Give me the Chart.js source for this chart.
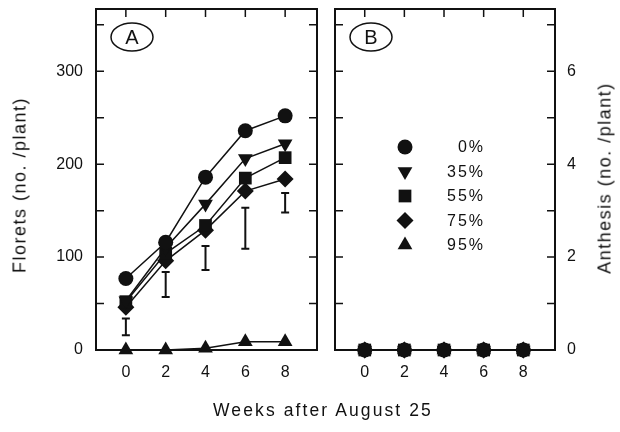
<!DOCTYPE html>
<html>
<head>
<meta charset="utf-8">
<script src="https://cdn.jsdelivr.net/npm/chart.js@4.4.1/dist/chart.umd.min.js"></script>
<style>
  body { margin: 0; background: #fff; }
  #wrap { position: relative; width: 620px; height: 432px; overflow: hidden; font-family: "Liberation Sans", Arial, sans-serif; color: #111; }
  canvas { position: absolute; top: 0; }
  #xtitle { position: absolute; left: 0; width: 646px; top: 400px; text-align: center; font-size: 17.5px; letter-spacing: 2.1px; }
  .ytitle { position: absolute; transform: translate(-50%, -50%) rotate(-90deg); white-space: nowrap; font-size: 18px; letter-spacing: 1.5px; }
</style>
</head>
<body>
<div id="wrap">
  <canvas id="panelA" width="326" height="432" style="left:0"></canvas>
  <canvas id="panelB" width="294" height="432" style="left:326px"></canvas>
  <div id="xtitle">Weeks after August 25</div>
  <div class="ytitle" style="left:20px; top:185px">Florets (no. /plant)</div>
  <div class="ytitle" style="left:605px; top:178px">Anthesis (no. /plant)</div>
</div>
<script>
// weeks after August 25
const weeks = [0, 2, 4, 6, 8];
const shadeNames = ['0%', '35%', '55%', '75%', '95%'];

// florets per plant, panel A
const florets0 = [77, 116, 186, 236, 252];
const florets35 = [53, 110, 157, 206, 222];
const florets55 = [52, 104, 134, 185, 207];
const florets75 = [46, 96, 129, 171, 184];
const florets95 = [0, 0, 2, 9, 9];

// LSD bars drawn under the curves
const barLow = [16, 57, 86, 109, 148];
const barHigh = [34, 84, 112, 153, 169];

// anthesis per plant, panel B (none for any shade level)
const anthesis0 = [0, 0, 0, 0, 0];
const anthesis35 = [0, 0, 0, 0, 0];
const anthesis55 = [0, 0, 0, 0, 0];
const anthesis75 = [0, 0, 0, 0, 0];
const anthesis95 = [0, 0, 0, 0, 0];

const weekTicks = [0, 2, 4, 6, 8];
const floretTicks = [0, 50, 100, 150, 200, 250, 300, 350];
const floretLabels = [0, 100, 200, 300];
const anthesisTicks = [0, 1, 2, 3, 4, 5, 6, 7];
const anthesisLabels = [0, 2, 4, 6];

const ink = '#111';
const fontFam = '"Liberation Sans", Arial, sans-serif';

// marker look for each shade level
const markers = [
  { pointStyle: 'circle', radius: 7.5, rotation: 0 },
  { pointStyle: 'triangle', radius: 8.5, rotation: 180 },
  { pointStyle: 'rect', radius: 9, rotation: 0 },
  { pointStyle: 'rectRot', radius: 8.5, rotation: 0 },
  { pointStyle: 'triangle', radius: 8.5, rotation: 0 }
];

function makeSets(seriesList) {
  return seriesList.map((vals, i) => ({
    label: shadeNames[i],
    data: weeks.map((w, j) => ({ x: w, y: vals[j] })),
    borderColor: ink,
    borderWidth: 1.5,
    backgroundColor: ink,
    pointBackgroundColor: ink,
    pointBorderWidth: 0,
    pointStyle: markers[i].pointStyle,
    pointRadius: markers[i].radius,
    pointRotation: markers[i].rotation,
    clip: false
  }));
}

// box with inward ticks
const framePlugin = {
  id: 'frame',
  beforeDatasetsDraw(chart) {
    const { ctx, chartArea: a, scales } = chart;
    ctx.save();
    ctx.strokeStyle = ink;
    ctx.lineWidth = 2;
    ctx.strokeRect(a.left, a.top, a.right - a.left, a.bottom - a.top);
    ctx.lineWidth = 1.5;
    ctx.beginPath();
    scales.y.ticks.forEach(t => {
      const y = scales.y.getPixelForValue(t.value);
      if (y < a.top + 2 || y > a.bottom - 2) return;
      ctx.moveTo(a.left, y); ctx.lineTo(a.left + 8, y);
      ctx.moveTo(a.right, y); ctx.lineTo(a.right - 8, y);
    });
    scales.x.ticks.forEach(t => {
      const x = scales.x.getPixelForValue(t.value);
      ctx.moveTo(x, a.top); ctx.lineTo(x, a.top + 8);
    });
    ctx.stroke();
    ctx.restore();
  }
};

// circled panel letter
function panelTag(letter) {
  return {
    id: 'tag' + letter,
    afterDraw(chart) {
      const { ctx, chartArea: a } = chart;
      ctx.save();
      ctx.strokeStyle = ink;
      ctx.lineWidth = 1.5;
      ctx.beginPath();
      ctx.ellipse(a.left + 36, a.top + 28, 21, 14, 0, 0, Math.PI * 2);
      ctx.stroke();
      ctx.fillStyle = ink;
      ctx.font = '20px ' + fontFam;
      ctx.textAlign = 'center';
      ctx.textBaseline = 'middle';
      ctx.fillText(letter, a.left + 36, a.top + 29);
      ctx.restore();
    }
  };
}

const errorBars = {
  id: 'errorBars',
  afterDatasetsDraw(chart) {
    const { ctx, scales } = chart;
    ctx.save();
    ctx.strokeStyle = ink;
    ctx.lineWidth = 2;
    ctx.beginPath();
    weeks.forEach((w, i) => {
      const x = scales.x.getPixelForValue(w);
      const y1 = scales.y.getPixelForValue(barLow[i]);
      const y2 = scales.y.getPixelForValue(barHigh[i]);
      ctx.moveTo(x, y1); ctx.lineTo(x, y2);
      ctx.moveTo(x - 4, y1); ctx.lineTo(x + 4, y1);
      ctx.moveTo(x - 4, y2); ctx.lineTo(x + 4, y2);
    });
    ctx.stroke();
    ctx.restore();
  }
};

const legendB = {
  id: 'legendB',
  afterDraw(chart) {
    const { ctx } = chart;
    ctx.save();
    ctx.fillStyle = ink;
    ctx.font = '16px ' + fontFam;
    ctx.letterSpacing = '2px';
    ctx.textAlign = 'right';
    ctx.textBaseline = 'middle';
    shadeNames.forEach((name, i) => {
      const y = 147 + i * 24.5;
      Chart.helpers.drawPoint(ctx, {
        pointStyle: markers[i].pointStyle,
        radius: markers[i].radius,
        rotation: markers[i].rotation,
        borderWidth: 0
      }, 79, y);
      ctx.fillText(name, 159, y + 1);
    });
    ctx.restore();
  }
};

const xAxis = {
  type: 'linear',
  min: -1.5,
  max: 9.6,
  afterBuildTicks: s => { s.ticks = weekTicks.map(v => ({ value: v })); },
  grid: { display: false, drawTicks: false },
  border: { display: false },
  ticks: { autoSkip: false, maxRotation: 0, padding: 13, color: ink, font: { size: 16, family: fontFam } },
  afterFit: s => { s.height = 82; s.paddingLeft = 0; s.paddingRight = 0; }
};

new Chart(document.getElementById('panelA'), {
  type: 'line',
  data: { datasets: makeSets([florets0, florets35, florets55, florets75, florets95]) },
  options: {
    responsive: false,
    animation: false,
    layout: { padding: { left: 0, top: 9, right: 5, bottom: 0 } },
    plugins: { legend: { display: false }, tooltip: { enabled: false } },
    scales: {
      x: xAxis,
      y: {
        min: 0,
        max: 367,
        afterBuildTicks: s => { s.ticks = floretTicks.map(v => ({ value: v })); },
        grid: { display: false, drawTicks: false },
        border: { display: false },
        ticks: {
          autoSkip: false,
          padding: 13,
          color: ink,
          font: { size: 16, family: fontFam },
          callback: v => floretLabels.includes(v) ? String(v) : ''
        },
        afterFit: s => { s.width = 96; s.paddingTop = 0; s.paddingBottom = 0; }
      }
    }
  },
  plugins: [framePlugin, errorBars, panelTag('A')]
});

new Chart(document.getElementById('panelB'), {
  type: 'line',
  data: { datasets: makeSets([anthesis0, anthesis35, anthesis55, anthesis75, anthesis95]) },
  options: {
    responsive: false,
    animation: false,
    layout: { padding: { left: 5, top: 9, right: 0, bottom: 0 } },
    plugins: { legend: { display: false }, tooltip: { enabled: false } },
    scales: {
      x: xAxis,
      y: {
        position: 'right',
        min: 0,
        max: 7.34,
        afterBuildTicks: s => { s.ticks = anthesisTicks.map(v => ({ value: v })); },
        grid: { display: false, drawTicks: false },
        border: { display: false },
        ticks: {
          autoSkip: false,
          padding: 12,
          color: ink,
          font: { size: 16, family: fontFam },
          callback: v => anthesisLabels.includes(v) ? String(v) : ''
        },
        afterFit: s => { s.width = 65; s.paddingTop = 0; s.paddingBottom = 0; }
      }
    }
  },
  plugins: [framePlugin, legendB, panelTag('B')]
});
</script>
</body>
</html>
